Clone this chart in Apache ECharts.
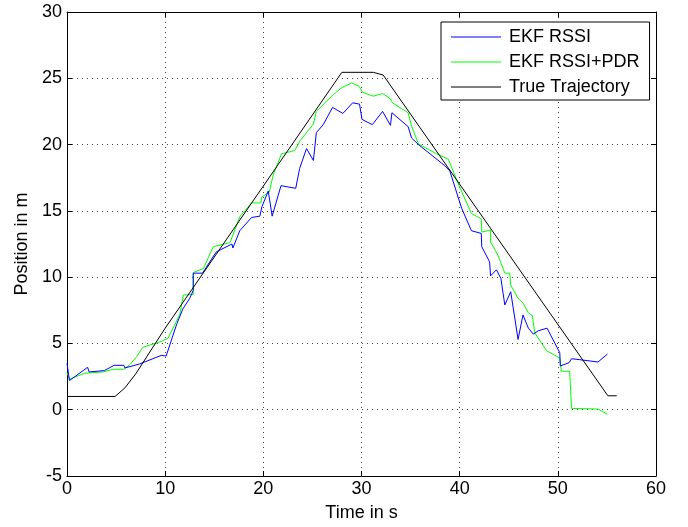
<!DOCTYPE html>
<html>
<head>
<meta charset="utf-8">
<script src="https://cdn.jsdelivr.net/npm/echarts@6/dist/echarts.min.js"></script>
<style>
html,body{margin:0;padding:0;background:#fff;}
#chart{width:688px;height:527px;}
</style>
</head>
<body>
<div id="chart"></div>
<script>
// EKF RSSI (blue)
const rssiTime = [0,0.25,2.1,2.25,3.8,4.8,5.8,5.9,7.4,9.6,10.1,10.7,11.2,11.8,12.5,12.86,12.86,13.8,15.2,16.8,16.9,17.6,18.8,19.65,19.85,20.5,20.9,21.8,23.3,23.7,24.4,25.1,25.4,26.1,27.05,28.1,29.1,29.8,30.05,31.1,32.15,32.95,33.1,34.75,35.1,35.8,38.5,39.0,40.2,41.2,42.2,42.25,43.05,43.15,43.75,44.2,44.6,45.2,45.95,46.45,47.0,47.5,48.0,48.9,50.2,50.25,51.15,51.4,54.1,55.05];
const rssiPos  = [3.5,2.2,3.2,2.85,2.95,3.35,3.35,3.15,3.45,4.1,4.05,5.4,6.5,7.6,8.4,9.0,10.3,10.3,11.9,12.5,12.2,13.5,14.5,14.6,15.3,16.5,14.6,16.9,16.7,18.2,19.7,18.8,20.9,21.5,22.8,22.35,23.15,23.05,21.9,21.5,22.5,21.45,22.4,21.35,20.5,20.0,18.4,18.0,15.2,13.5,13.3,12.3,11.15,10.1,10.55,9.9,7.9,8.9,5.3,7.15,6.15,5.7,5.95,6.15,4.3,3.3,3.55,3.85,3.6,4.2];

// EKF RSSI+PDR (green)
const pdrTime = [0,0.25,1.8,3.7,4.7,5.8,6.4,7.1,7.7,9.6,10.3,11.5,11.85,12.86,12.86,13.9,14.9,16.6,17.6,18.8,19.75,19.85,20.6,21.0,21.85,23.2,23.75,25.1,25.4,26.95,28.0,29.0,29.75,30.1,31.2,32.15,32.95,33.15,34.75,35.1,35.8,37.65,38.85,39.85,41.2,42.2,42.25,43.15,43.15,43.9,44.6,45.1,45.2,45.95,46.45,47.0,47.4,47.65,48.85,50.2,50.35,51.2,51.4,54.1,55.05];
const pdrPos  = [2.8,2.3,2.75,2.85,3.05,3.05,3.4,4.0,4.7,5.15,5.4,7.2,8.65,8.7,10.35,10.65,12.3,12.6,14.55,15.6,15.6,16.05,16.4,17.7,19.3,19.55,20.3,21.55,22.5,23.65,24.3,24.65,24.4,23.95,23.65,23.85,23.45,23.15,22.4,21.4,20.05,19.3,18.9,17.05,14.8,14.4,13.4,13.55,12.65,11.65,10.3,10.3,9.4,8.4,8.05,7.3,7.1,5.8,4.45,3.9,2.9,2.9,0.1,0.05,-0.35];

// True Trajectory (black)
const trueTime = [0,4.9,5.9,7.0,10.0,28.0,31.2,32.2,55.1,56.0];
const truePos  = [1,1,1.65,2.7,6.15,25.45,25.45,25.25,1.05,1.05];

const xTicks = [0,10,20,30,40,50,60];
const yTicks = [-5,0,5,10,15,20,25,30];

const zip = (a,b) => a.map((v,i) => [v,b[i]]);
const FONT = 'Liberation Sans, Arial, sans-serif';
const FS = 18;

const chart = echarts.init(document.getElementById('chart'), null, {renderer:'canvas'});

const baseX = {
  type:'value', min:xTicks[0], max:xTicks[xTicks.length-1], interval:10,
  axisLine:{show:true, onZero:false, lineStyle:{color:'#000', width:1}},
  axisTick:{show:true, inside:true, length:5, lineStyle:{color:'#000'}},
};
const baseY = {
  type:'value', min:yTicks[0], max:yTicks[yTicks.length-1], interval:5,
  axisLine:{show:true, onZero:false, lineStyle:{color:'#000', width:1}},
  axisTick:{show:true, inside:true, length:5, lineStyle:{color:'#000'}},
};

chart.setOption({
  animation:false,
  backgroundColor:'#fff',
  grid:{left:67, right:32, top:12, bottom:48, containLabel:false},
  xAxis:[
    Object.assign({}, baseX, {
      position:'bottom',
      name:'Time in s', nameLocation:'middle', nameGap:28,
      nameTextStyle:{fontFamily:FONT, fontSize:FS, color:'#000'},
      axisLabel:{fontFamily:FONT, fontSize:FS, color:'#000', margin:4},
      splitLine:{show:true, lineStyle:{color:'#444', width:1, type:[1,4]}}
    }),
    Object.assign({}, baseX, {
      position:'top',
      axisLabel:{show:false},
      splitLine:{show:false}
    })
  ],
  yAxis:[
    Object.assign({}, baseY, {
      position:'left',
      name:'Position in m', nameLocation:'middle', nameGap:36,
      nameTextStyle:{fontFamily:FONT, fontSize:FS, color:'#000'},
      axisLabel:{fontFamily:FONT, fontSize:FS, color:'#000', margin:5},
      splitLine:{show:true, lineStyle:{color:'#444', width:1, type:[1,4]}}
    }),
    Object.assign({}, baseY, {
      position:'right',
      axisLabel:{show:false},
      splitLine:{show:false}
    })
  ],
  legend:{
    orient:'vertical', left:441, top:22,
    backgroundColor:'#fff', borderColor:'#000', borderWidth:1,
    padding:[6,10,4,10], itemGap:7, itemWidth:50, itemHeight:1,
    icon:'rect',
    textStyle:{fontFamily:FONT, fontSize:FS, color:'#000', padding:[0,0,0,3]},
    data:['EKF RSSI','EKF RSSI+PDR','True Trajectory']
  },
  series:[
    {name:'EKF RSSI', type:'line', data:zip(rssiTime,rssiPos), symbol:'none', showSymbol:false,
     lineStyle:{color:'#0000ff', width:1}, itemStyle:{color:'#0000ff'}, z:3},
    {name:'EKF RSSI+PDR', type:'line', data:zip(pdrTime,pdrPos), symbol:'none', showSymbol:false,
     lineStyle:{color:'#00ff00', width:1}, itemStyle:{color:'#00ff00'}, z:2},
    {name:'True Trajectory', type:'line', data:zip(trueTime,truePos), symbol:'none', showSymbol:false,
     lineStyle:{color:'#000', width:1}, itemStyle:{color:'#000'}, z:4}
  ]
});
</script>
</body>
</html>
